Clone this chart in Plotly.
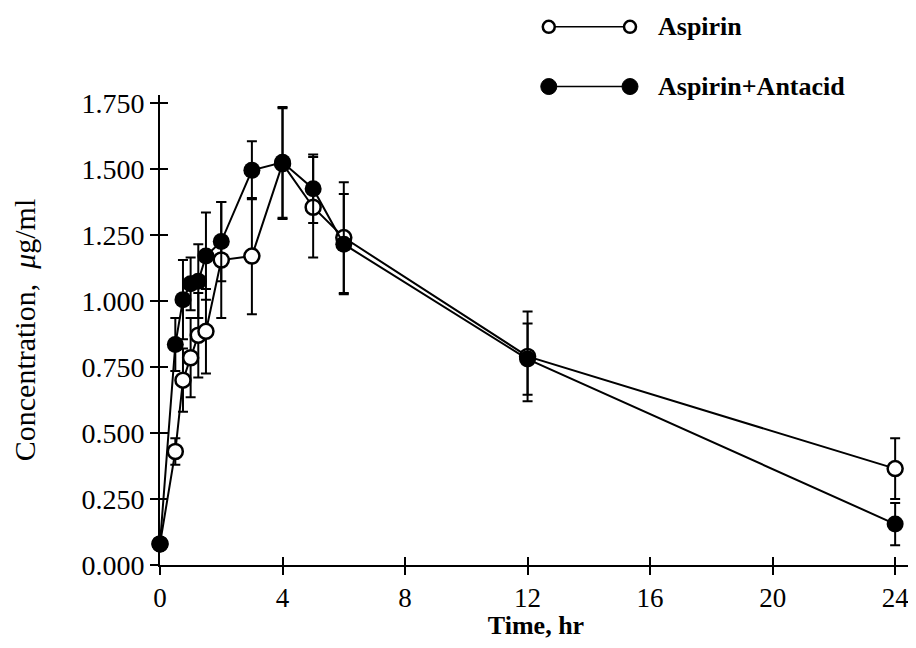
import plotly.graph_objects as go

time_hr = [0, 0.5, 0.75, 1, 1.25, 1.5, 2, 3, 4, 5, 6, 12, 24]
aspirin = [0.08, 0.43, 0.70, 0.785, 0.87, 0.885, 1.155, 1.17, 1.52, 1.355, 1.24, 0.79, 0.365]
aspirin_sd = [0, 0.05, 0.12, 0.15, 0.16, 0.16, 0.22, 0.22, 0.21, 0.19, 0.21, 0.17, 0.115]
antacid = [0.08, 0.835, 1.005, 1.065, 1.075, 1.17, 1.225, 1.495, 1.525, 1.425, 1.215, 0.78, 0.155]
antacid_sd = [0, 0.10, 0.15, 0.10, 0.14, 0.165, 0.15, 0.11, 0.21, 0.13, 0.19, 0.135, 0.08]

x_ticks = [0, 4, 8, 12, 16, 20, 24]
y_ticks = [0, 0.25, 0.5, 0.75, 1.0, 1.25, 1.5, 1.75]
legend_names = ["Aspirin", "Aspirin + Antacid"]

FONT = "Liberation Serif, Times New Roman, serif"
X_RANGE = [0, 24.55]
Y_RANGE = [0, 1.78]

fig = go.Figure()

fig.add_trace(go.Scatter(
    x=time_hr, y=aspirin, mode="lines+markers", name=legend_names[0],
    line=dict(color="black", width=2),
    marker=dict(symbol="circle", size=15, color="white", line=dict(color="black", width=2.5)),
    error_y=dict(type="data", array=aspirin_sd, visible=True, color="black", thickness=2, width=5),
    cliponaxis=False, showlegend=False,
))
fig.add_trace(go.Scatter(
    x=time_hr, y=antacid, mode="lines+markers", name=legend_names[1],
    line=dict(color="black", width=2),
    marker=dict(symbol="circle", size=17, color="black"),
    error_y=dict(type="data", array=antacid_sd, visible=True, color="black", thickness=2, width=5),
    cliponaxis=False, showlegend=False,
))
# dummy trace to activate overlay axes (inside ticks)
fig.add_trace(go.Scatter(x=[], y=[], xaxis="x2", yaxis="y2", showlegend=False))

axis_common = dict(showgrid=False, zeroline=False, showline=True, linecolor="black", linewidth=2,
                   tickcolor="black", tickwidth=2, ticklen=8)

# page has an 8px body margin, so the figure is offset by it
fig.update_layout(
    width=908, height=632,
    paper_bgcolor="white", plot_bgcolor="white",
    margin=dict(l=152, r=4, t=87, b=75),
    font=dict(family=FONT, color="black", size=24),
    xaxis=dict(range=X_RANGE, tickvals=x_ticks, ticks="outside", automargin=False,
               title=dict(text="<b>Time, hr</b>", font=dict(size=26)),
               tickfont=dict(size=27), **axis_common),
    yaxis=dict(range=Y_RANGE, tickvals=y_ticks, tickformat=".3f", ticks="outside", automargin=True,
               title=dict(text="Concentration,  <i>μ</i>g/ml", font=dict(size=30), standoff=44),
               tickfont=dict(size=28), **axis_common),
    xaxis2=dict(range=X_RANGE, tickvals=x_ticks, ticks="inside", showticklabels=False, automargin=False,
                overlaying="x", anchor="y2", side="bottom", **axis_common),
    yaxis2=dict(range=Y_RANGE, tickvals=y_ticks, ticks="inside", showticklabels=False, automargin=False,
                overlaying="y", anchor="x2", side="left", **axis_common),
)

# Custom legend (o——o style) above the plot area
leg_rows = [(1.145, "white", 12, 2.5), (1.018, "black", 16, 0)]
shapes = []
annotations = []
for (py, fill, d, lw), name in zip(leg_rows, legend_names):
    shapes.append(dict(type="line", xref="paper", yref="paper", x0=0.517, x1=0.625, y0=py, y1=py,
                       line=dict(color="black", width=1.5)))
    for px in (0.517, 0.625):
        shapes.append(dict(type="circle", xref="paper", yref="paper", xsizemode="pixel", ysizemode="pixel",
                           xanchor=px, yanchor=py, x0=-d / 2, x1=d / 2, y0=-d / 2, y1=d / 2,
                           fillcolor=fill, line=dict(color="black", width=lw if lw else 1)))
    annotations.append(dict(xref="paper", yref="paper", x=0.659, y=py, xanchor="left", yanchor="middle",
                            text="<b>" + name.replace(" + ", "+") + "</b>", showarrow=False,
                            font=dict(size=26, family=FONT)))
fig.update_layout(shapes=shapes, annotations=annotations)

fig.write_html("out.html")
